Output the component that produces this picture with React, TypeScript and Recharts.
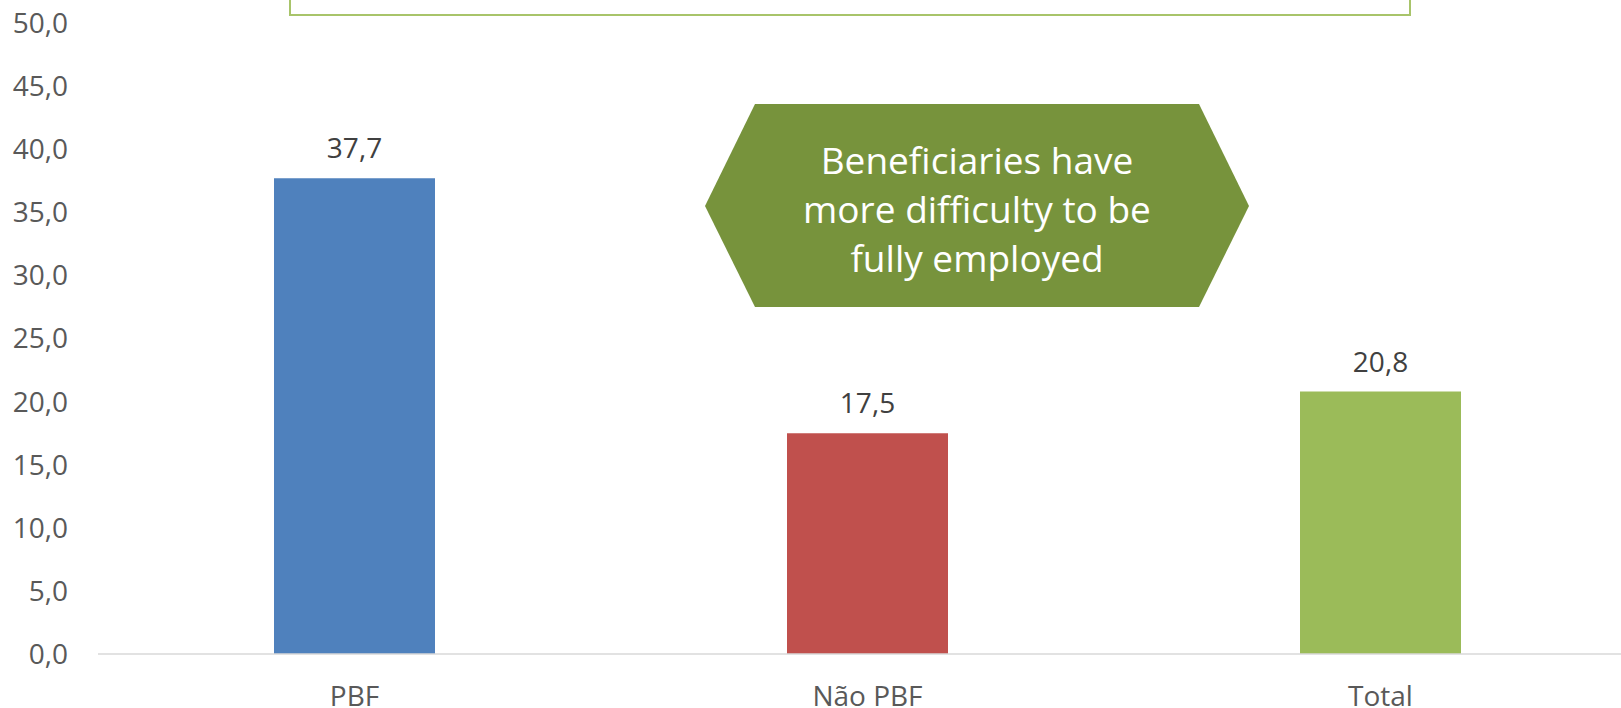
import React from "react";
import { BarChart, Bar, XAxis, YAxis, Cell, LabelList } from "recharts";

const categories = ["PBF", "Não PBF", "Total"];
const shares = [37.7, 17.5, 20.8];
const barColors = ["#4F81BD", "#C0504D", "#9BBB59"];
const yTicks = [0, 5, 10, 15, 20, 25, 30, 35, 40, 45, 50];
const calloutLines = ["Beneficiaries have", "more difficulty to be", "fully employed"];

const rows = categories.map((name, i) => ({ name, value: shares[i] }));

const fmt = (v: number) => v.toFixed(1).replace(".", ",");
const FONT = "'Open Sans', sans-serif";

export default function App() {
  return (
    <div
      style={{
        position: "absolute",
        left: 0,
        top: 0,
        width: 1621,
        height: 708,
        overflow: "hidden",
        background: "#fff",
      }}
    >
      <BarChart
        width={1637}
        height={740}
        data={rows}
        margin={{ top: 23, right: 0, bottom: 26, left: 0 }}
        style={{ fontFamily: FONT }}
      >
        <XAxis
          dataKey="name"
          height={60}
          tickLine={false}
          tickSize={0}
          tickMargin={32}
          axisLine={{ stroke: "#D9D9D9", strokeWidth: 1.5 }}
          tick={{ fontSize: 28, fill: "#595959", fontFamily: FONT }}
        />
        <YAxis
          width={98}
          domain={[0, 50]}
          ticks={yTicks}
          interval={0}
          axisLine={false}
          tickLine={false}
          tickSize={0}
          tickMargin={30}
          tickFormatter={fmt}
          tick={{ fontSize: 28, fill: "#595959", fontFamily: FONT }}
        />
        <Bar dataKey="value" barSize={161} isAnimationActive={false}>
          {rows.map((r, i) => (
            <Cell key={r.name} fill={barColors[i]} />
          ))}
          <LabelList
            dataKey="value"
            position="top"
            offset={20}
            formatter={(v: number) => fmt(v)}
            style={{ fontSize: 28, fill: "#404040", fontFamily: FONT }}
          />
        </Bar>

        {/* cropped text box at the top */}
        <rect x={290} y={-20} width={1120} height={35} fill="none" stroke="#A8C46A" strokeWidth={2} />

        {/* hexagon callout */}
        <polygon
          points="705,206 755,104 1199,104 1249,206 1199,307 755,307"
          fill="#77933C"
        />
        {calloutLines.map((line, i) => (
          <text
            key={line}
            x={977}
            y={174 + i * 49}
            textAnchor="middle"
            fill="#FFFFFF"
            fontSize={37}
            fontFamily={FONT}
          >
            {line}
          </text>
        ))}
      </BarChart>
    </div>
  );
}
